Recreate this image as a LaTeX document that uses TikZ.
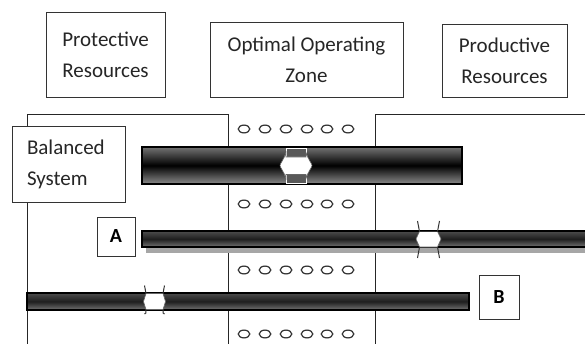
\documentclass[tikz,border=0pt]{standalone}
\usepackage{fontspec}
\setmainfont{Carlito}
\begin{document}
\begin{tikzpicture}[x=1pt,y=-1pt,
  box/.style={draw=black!80, line width=0.9pt, fill=white, inner sep=0pt},
  txt/.style={font=\fontsize{21}{31}\selectfont, text=black!85},
  lbl/.style={font=\fontsize{20}{24}\selectfont\bfseries, text=black},
  frameline/.style={draw=black!85, line width=0.9pt},
  ring/.style={draw=black!80, line width=1.2pt},
  bigbar/.style={draw=black, line width=1.2pt, top color=black!55, bottom color=black!45, middle color=black},
  thinbar/.style={draw=black, line width=1.1pt, top color=black!70, bottom color=black!55, middle color=black!88},
  tab/.style={fill=black!65, draw=white, line width=0.5pt},
  knob/.style={fill=white, draw=black!60, line width=0.6pt},
  tabline/.style={draw=black!80, line width=1pt}
]
\useasboundingbox (0,0) rectangle (585,344);
\clip (0,0) rectangle (585,344);
\fill[white] (0,0) rectangle (585,344);

% zone frames
\draw[frameline] (27,350) -- (27,114) -- (228,114) -- (228,350);
\draw[frameline] (375,350) -- (375,114) -- (590,114);

% rows of rings
\foreach \yy in {129,204,270,334}{
  \foreach \xx in {244,265,286,307,327,348}{
    \draw[ring] (\xx,\yy) ellipse [x radius=5.8, y radius=3.9];
  }
}

% top boxes
\node[box, txt, minimum width=119, minimum height=85, align=center] (prot) at (105.5,54.5) {Protective\\Resources};
\node[box, txt, minimum width=193, minimum height=75, align=center] (opt) at (306.5,59.5) {Optimal Operating\\Zone};
\node[box, txt, minimum width=125, minimum height=73, align=center] (prod) at (504.5,60.5) {Productive\\Resources};

% balanced system
\node[box, txt, minimum height=76, text width=83, inner xsep=15pt, align=left] (bal) at (68.5,164) {Balanced\\System};

% big bar
\node[bigbar, minimum width=320, minimum height=37, inner sep=0pt] (bar0) at (302,165.5) {};
\begin{scope}[shift={(296,165.5)}]
  \path[tab] (-10,-17.5) rectangle (10,-8.5);
  \path[tab] (-10,8.5) rectangle (10,17.5);
  \path[knob] (-10,-13) .. controls (-12,-6) and (-16,-2) .. (-16,0)
     .. controls (-16,2) and (-12,6) .. (-10,13) -- (-10,9) -- (10,9) -- (10,13)
     .. controls (12,6) and (16,2) .. (16,0)
     .. controls (16,-2) and (12,-6) .. (10,-13) -- (10,-8.5) -- (-10,-8.5) -- cycle;
\end{scope}

% A
\node[box, lbl, minimum width=38, minimum height=39] (A) at (116,236.5) {A};
\fill[black!35] (146,236) rectangle (592,252.5);
\node[thinbar, minimum width=450, minimum height=16, inner sep=0pt] (barA) at (367,239) {};
\begin{scope}[shift={(428.5,239)}]
  \path[knob] (-12.5,0) .. controls (-11,-4) .. (-9,-7.5) -- (9,-7.5) .. controls (11,-4) .. (12.5,0)
     .. controls (11,4) .. (9,8) -- (-9,8) .. controls (-11,4) .. cycle;
  \draw[tabline] (-9,-7.5) -- (9,-7.5);
  \draw[tabline] (-9,-7.5) .. controls (-9.5,-13) .. (-11,-18);
  \draw[tabline] (9,-7.5) .. controls (9.5,-13) .. (11,-18);
  \draw[tabline] (-9,8) .. controls (-9.5,13) .. (-11,19);
  \draw[tabline] (9,8) .. controls (9.5,13) .. (11,19);
\end{scope}

% B
\node[thinbar, minimum width=442, minimum height=17, inner sep=0pt] (barB) at (248,301.5) {};
\begin{scope}[shift={(154.5,301.5)}]
  \path[knob] (-11,0) .. controls (-10,-4) .. (-8.5,-8) -- (8.5,-8) .. controls (10,-4) .. (11,0)
     .. controls (10,4) .. (8.5,8) -- (-8.5,8) .. controls (-10,4) .. cycle;
  \draw[tabline] (-8.5,-8) .. controls (-8.5,-12) .. (-10,-16);
  \draw[tabline] (8.5,-8) .. controls (8.5,-12) .. (10,-16);
  \draw[tabline] (-8.5,8) .. controls (-8.5,12) .. (-10,12.5);
  \draw[tabline] (8.5,8) .. controls (8.5,12) .. (10,12.5);
\end{scope}
\node[box, lbl, minimum width=40, minimum height=44] (B) at (499,297) {B};

\end{tikzpicture}
\end{document}
